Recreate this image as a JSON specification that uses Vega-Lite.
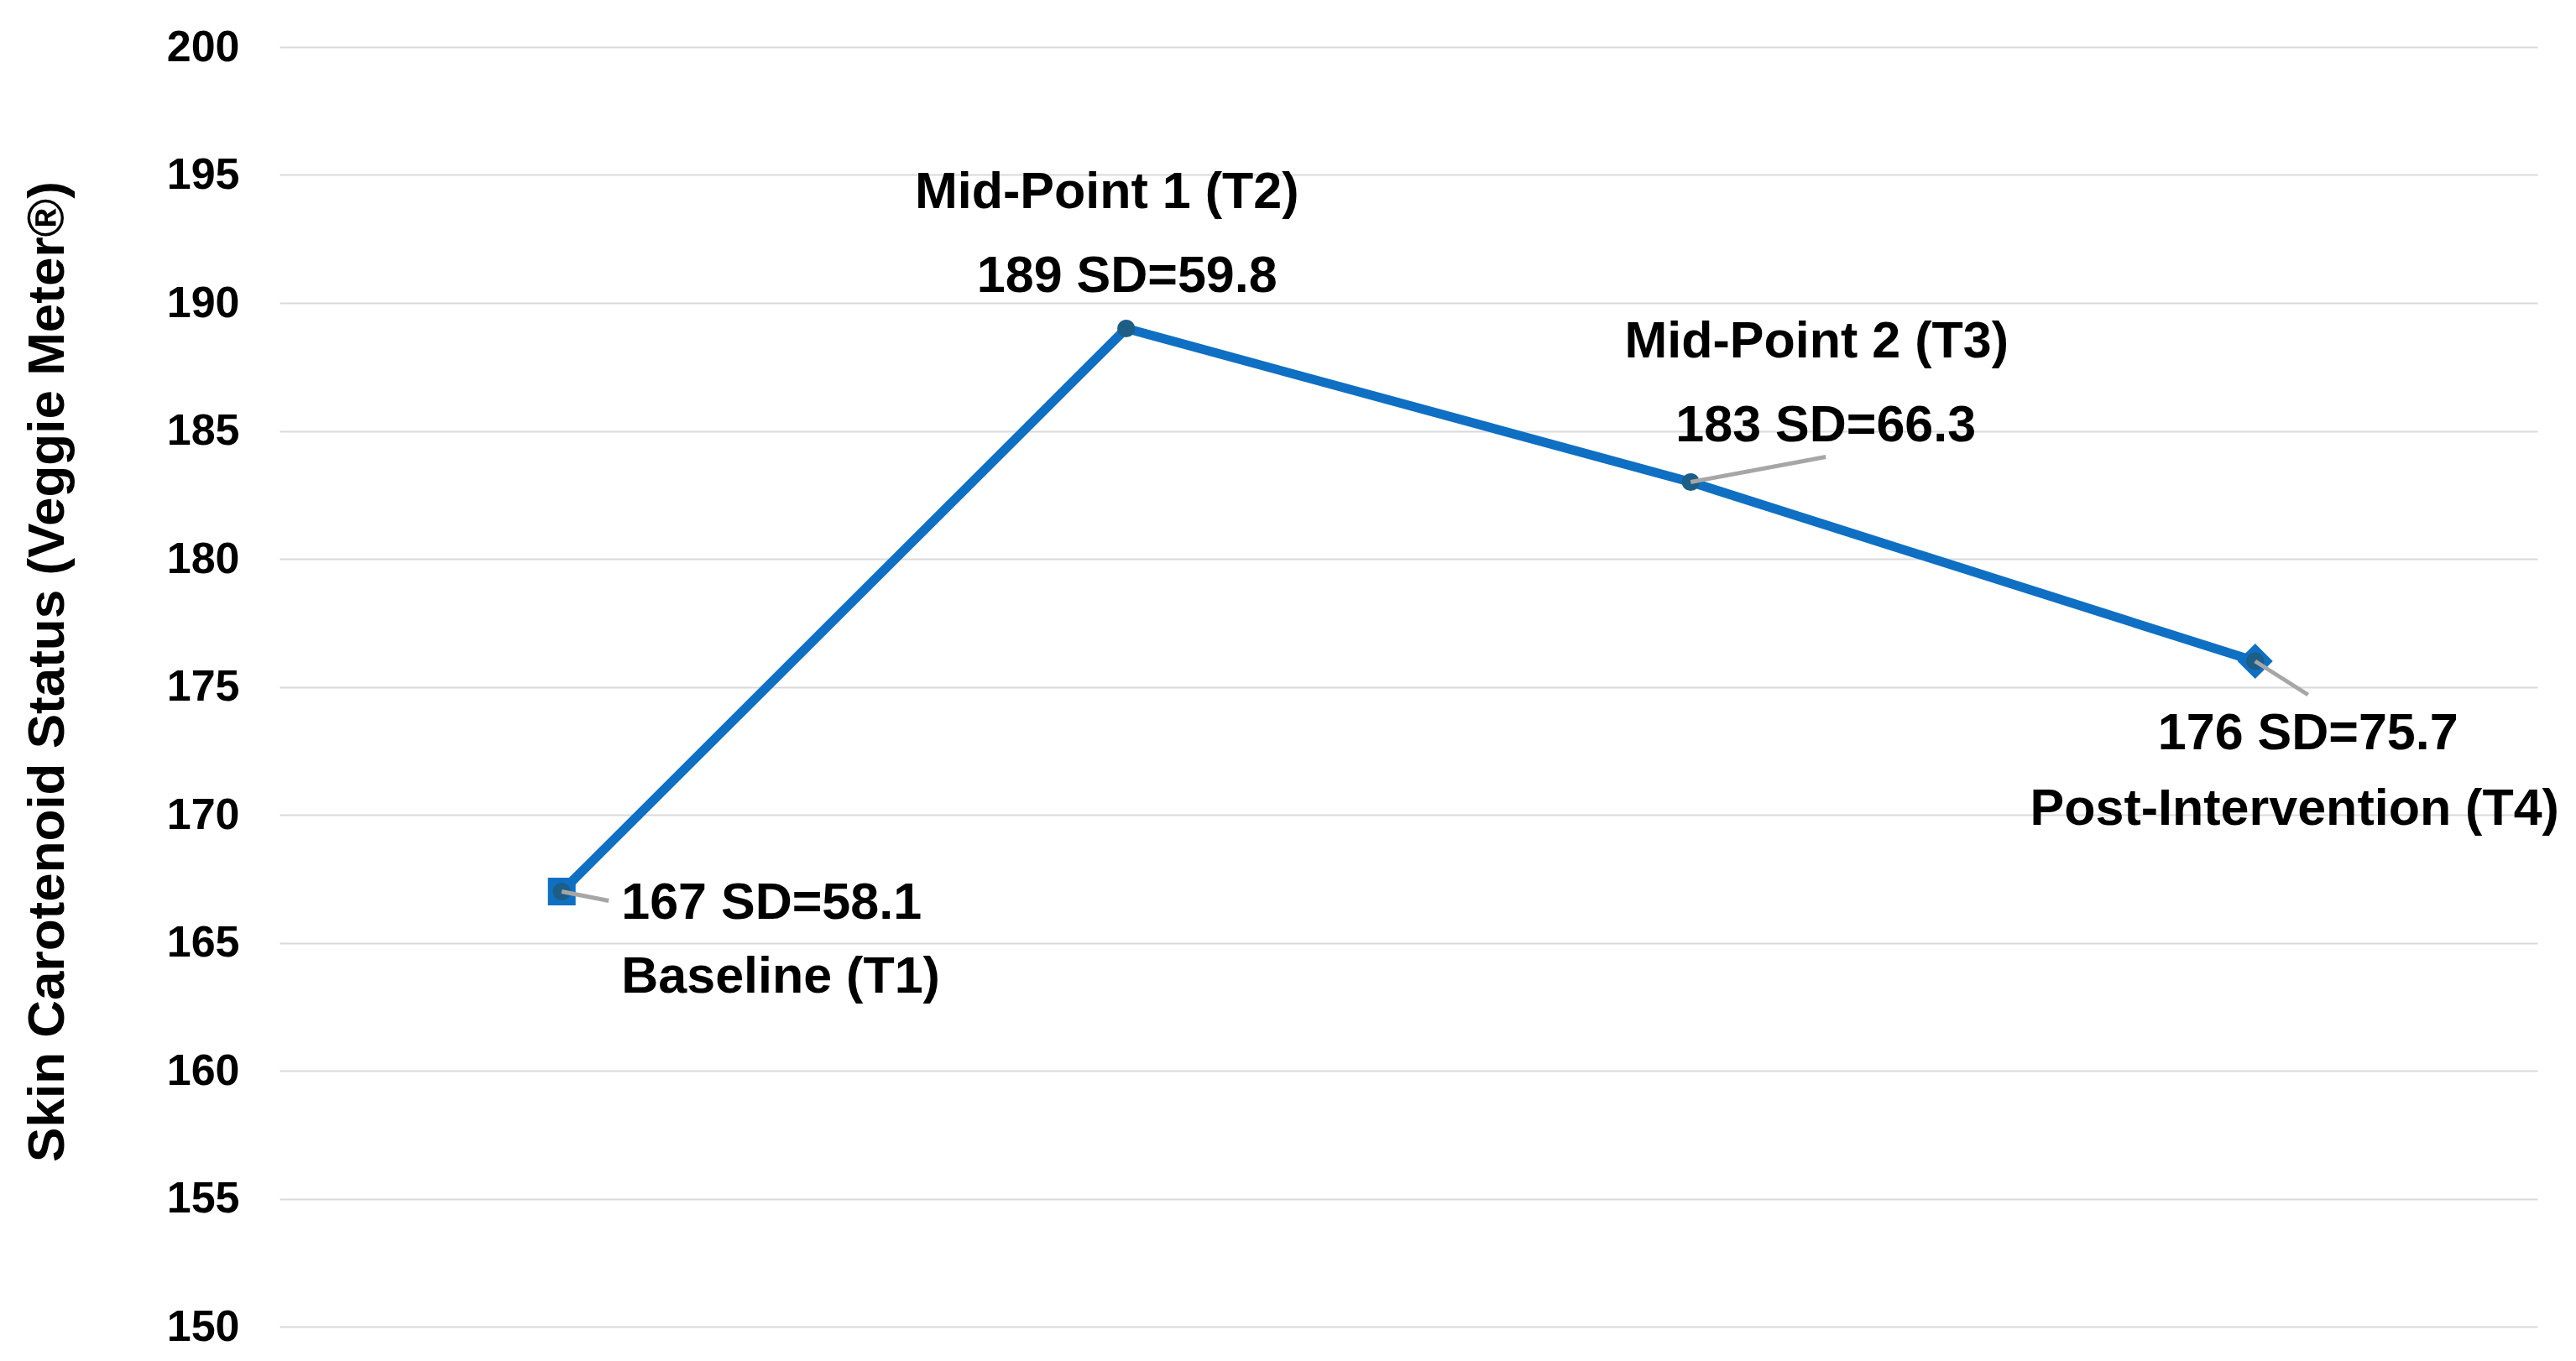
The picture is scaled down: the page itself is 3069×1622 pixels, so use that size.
{
  "$schema": "https://vega.github.io/schema/vega-lite/v6.json",
  "autosize": {"type": "none"},
  "width": 2690,
  "height": 1525,
  "padding": {"left": 333, "top": 56, "right": 46, "bottom": 41},
  "background": "white",
  "config": {
    "view": {"stroke": null},
    "font": "Liberation Sans",
    "text": {"font": "Liberation Sans", "fontWeight": "bold", "fontSize": 61, "color": "black", "baseline": "alphabetic"}
  },
  "data": {
    "values": [
      {"time": "T1", "value": 167, "sd": 58.1, "name": "Baseline (T1)", "stat": "167 SD=58.1"},
      {"time": "T2", "value": 189, "sd": 59.8, "name": "Mid-Point 1 (T2)", "stat": "189 SD=59.8"},
      {"time": "T3", "value": 183, "sd": 66.3, "name": "Mid-Point 2 (T3)", "stat": "183 SD=66.3"},
      {"time": "T4", "value": 176, "sd": 75.7, "name": "Post-Intervention (T4)", "stat": "176 SD=75.7"}
    ]
  },
  "encoding": {
    "x": {"field": "time", "type": "ordinal", "scale": {"type": "point", "padding": 0.5}, "axis": null},
    "y": {
      "field": "value", "type": "quantitative",
      "scale": {"domain": [150, 200], "nice": false, "zero": false},
      "axis": {
        "values": [150, 155, 160, 165, 170, 175, 180, 185, 190, 195, 200],
        "domain": false, "ticks": false,
        "labelFont": "Liberation Sans", "labelFontWeight": "bold", "labelFontSize": 52, "labelColor": "black",
        "labelPadding": 48,
        "gridColor": "#d9d9d9", "gridWidth": 2,
        "title": "Skin Carotenoid Status (Veggie Meter®)",
        "titleFont": "Liberation Sans", "titleFontWeight": "bold", "titleFontSize": 62, "titleColor": "black",
        "titleAngle": -90, "titleAlign": "center", "titleBaseline": "alphabetic",
        "titleX": -258, "titleY": 744
      }
    }
  },
  "layer": [
    {"mark": {"type": "line", "color": "#0F6FC3", "strokeWidth": 11}},
    {
      "transform": [{"filter": "datum.time == 'T1'"}],
      "mark": {"type": "point", "shape": "square", "filled": true, "color": "#0F6FC3", "size": 1089, "opacity": 1}
    },
    {
      "transform": [{"filter": "datum.time == 'T4'"}],
      "mark": {"type": "point", "shape": "diamond", "filled": true, "color": "#0F6FC3", "size": 1764, "opacity": 1}
    },
    {"mark": {"type": "circle", "color": "#1D5E86", "size": 450, "opacity": 1}},
    {
      "transform": [{"filter": "datum.time == 'T1'"}],
      "mark": {"type": "rule", "color": "#A6A6A6", "strokeWidth": 5, "x2Offset": 56, "y2Offset": 11},
      "encoding": {"x2": {"field": "time"}, "y2": {"field": "value"}}
    },
    {
      "transform": [{"filter": "datum.time == 'T3'"}],
      "mark": {"type": "rule", "color": "#A6A6A6", "strokeWidth": 5, "x2Offset": 161, "y2Offset": -30},
      "encoding": {"x2": {"field": "time"}, "y2": {"field": "value"}}
    },
    {
      "transform": [{"filter": "datum.time == 'T4'"}],
      "mark": {"type": "rule", "color": "#A6A6A6", "strokeWidth": 5, "x2Offset": 63, "y2Offset": 40},
      "encoding": {"x2": {"field": "time"}, "y2": {"field": "value"}}
    },
    {
      "transform": [{"filter": "datum.time == 'T1'"}],
      "mark": {"type": "text", "align": "left", "dx": 71, "dy": 32},
      "encoding": {"text": {"field": "stat"}}
    },
    {
      "transform": [{"filter": "datum.time == 'T1'"}],
      "mark": {"type": "text", "align": "left", "dx": 71, "dy": 120},
      "encoding": {"text": {"field": "name"}}
    },
    {
      "transform": [{"filter": "datum.time == 'T2'"}],
      "mark": {"type": "text", "align": "center", "dx": -23, "dy": -144},
      "encoding": {"text": {"field": "name"}}
    },
    {
      "transform": [{"filter": "datum.time == 'T2'"}],
      "mark": {"type": "text", "align": "center", "dx": 1, "dy": -44},
      "encoding": {"text": {"field": "stat"}}
    },
    {
      "transform": [{"filter": "datum.time == 'T3'"}],
      "mark": {"type": "text", "align": "center", "dx": 150, "dy": -149},
      "encoding": {"text": {"field": "name"}}
    },
    {
      "transform": [{"filter": "datum.time == 'T3'"}],
      "mark": {"type": "text", "align": "center", "dx": 161, "dy": -49},
      "encoding": {"text": {"field": "stat"}}
    },
    {
      "transform": [{"filter": "datum.time == 'T4'"}],
      "mark": {"type": "text", "align": "center", "dx": 63, "dy": 105},
      "encoding": {"text": {"field": "stat"}}
    },
    {
      "transform": [{"filter": "datum.time == 'T4'"}],
      "mark": {"type": "text", "align": "center", "dx": 47, "dy": 195},
      "encoding": {"text": {"field": "name"}}
    }
  ]
}
